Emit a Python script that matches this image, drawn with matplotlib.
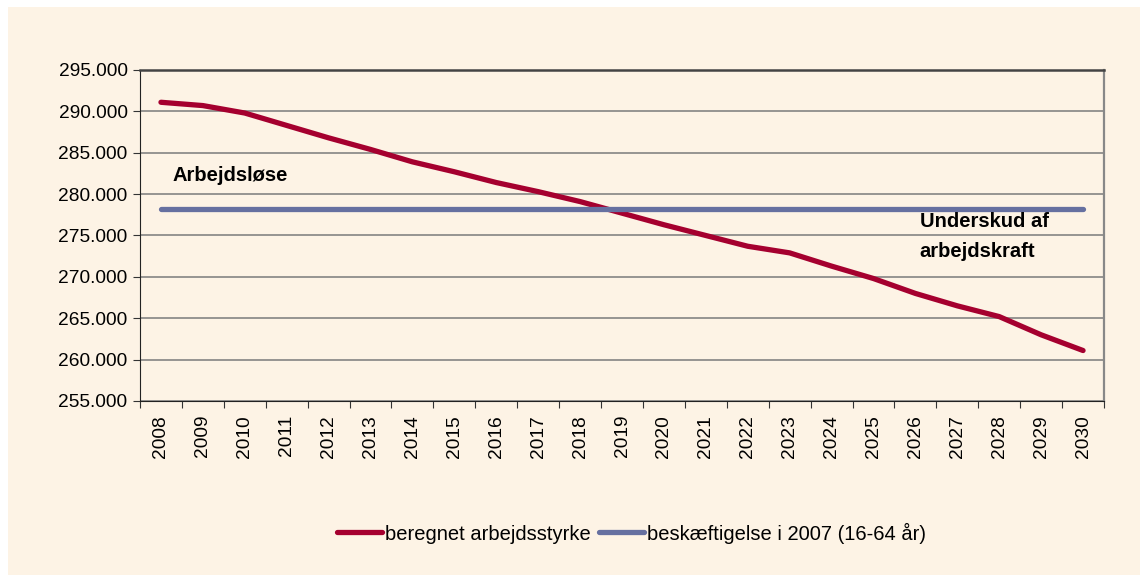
import matplotlib.pyplot as plt
import matplotlib.patches as mpatches
from matplotlib.ticker import FuncFormatter, FixedLocator

# data
years = [str(y) for y in range(2008, 2031)]
arbejdsstyrke = [291100, 290700, 289800, 288300, 286800, 285400, 283900, 282700,
                 281400, 280300, 279100, 277700, 276300, 275000, 273700, 272900,
                 271300, 269800, 268000, 266500, 265200, 263000, 261100]
beskaeftigelse_2007 = [278200] * len(years)

bg = '#fdf3e5'
red = '#a5002f'
blue = '#6670a0'

plt.rcParams['font.family'] = ['Liberation Sans', 'DejaVu Sans']

fig = plt.figure(figsize=(11.44, 5.79), dpi=100, facecolor='white')
fig.patches.append(mpatches.Rectangle((8 / 1144, 4 / 579), 1132 / 1144, 568 / 579,
                                      transform=fig.transFigure, facecolor=bg,
                                      edgecolor='none', zorder=-1))

ax = fig.add_axes([140 / 1144, 1 - 401 / 579, 964 / 1144, 331 / 579])
ax.set_facecolor(bg)

x = list(range(len(years)))
ax.plot(x, arbejdsstyrke, color=red, lw=3.8, solid_capstyle='round',
        solid_joinstyle='round', label='beregnet arbejdsstyrke', zorder=3)
ax.plot(x, beskaeftigelse_2007, color=blue, lw=3.8, solid_capstyle='round',
        label='beskæftigelse i 2007 (16-64 år)', zorder=3)

ax.set_xlim(-0.5, len(years) - 0.5)
ax.set_ylim(255000, 295000)
ax.set_yticks(range(255000, 295001, 5000))
ax.yaxis.set_major_formatter(FuncFormatter(lambda v, p: f'{int(v):,}'.replace(',', '.')))
ax.grid(axis='y', color='#7a7a7a', lw=1.1)
ax.set_axisbelow(True)

# category axis: ticks between categories, labels centred
ax.xaxis.set_major_locator(FixedLocator([i - 0.5 for i in range(len(years) + 1)]))
ax.xaxis.set_major_formatter(FuncFormatter(lambda v, p: ''))
ax.xaxis.set_minor_locator(FixedLocator(x))
ax.set_xticklabels(years, minor=True, rotation=90)
ax.tick_params(axis='x', which='minor', length=0, pad=10, labelsize=13.8)
ax.tick_params(axis='x', which='major', length=5, direction='out', color='#333333')
ax.tick_params(axis='y', length=5, direction='out', color='#333333', labelsize=13.8, pad=4)

ax.spines['left'].set_color('#222222')
ax.spines['bottom'].set_color('#222222')
ax.spines['top'].set_color('#444444')
ax.spines['top'].set_linewidth(1.8)
ax.spines['right'].set_color('#888888')
ax.spines['right'].set_linewidth(1.6)

ax.text(0.28, 282300, 'Arbejdsløse', fontsize=14.5, fontweight='bold',
        va='center', ha='left')
ax.text(18.1, 274900, 'Underskud af\narbejdskraft', fontsize=14.5, fontweight='bold',
        va='center', ha='left', linespacing=1.75)

fig.legend(loc='center', bbox_to_anchor=(0.552, 1 - 533 / 579), ncol=2, frameon=False,
           handlelength=2.2, handletextpad=0.15, columnspacing=0.45,
           prop={'size': 14.5})

fig.savefig('out.png', dpi=100, facecolor='white')
